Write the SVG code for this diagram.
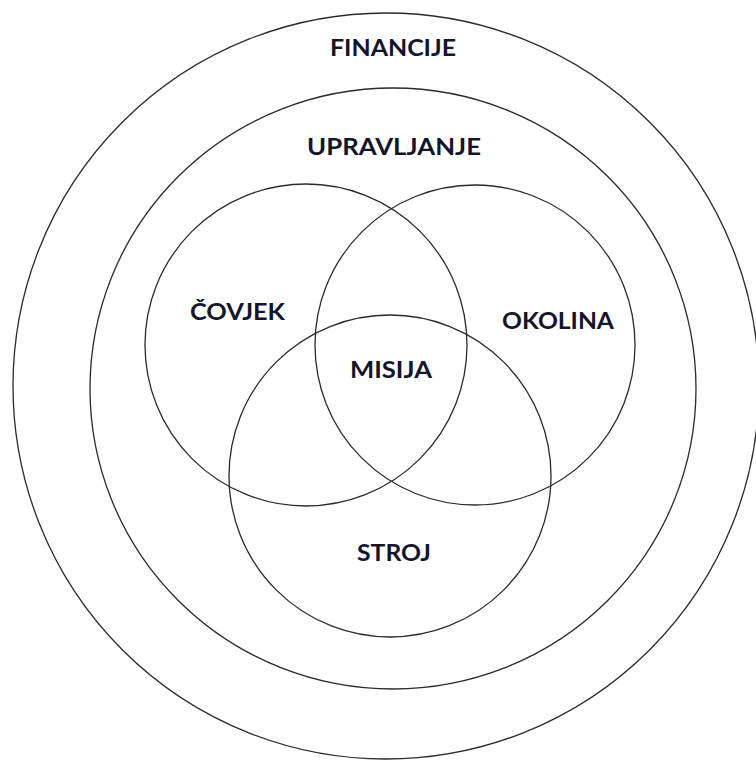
<svg xmlns="http://www.w3.org/2000/svg" width="756" height="760" viewBox="0 0 756 760">
<style>
.c{fill:none;stroke:#2a2a2a;stroke-width:1.3}
.t{font-family:Lato,"Open Sans","Liberation Sans",sans-serif;font-weight:bold;font-size:22px;fill:#14142a;text-anchor:middle}
</style>
<rect width="756" height="760" fill="#fff"/>
<g id="financije">
<ellipse class="c" cx="386" cy="386" rx="373" ry="373"/>
<text class="t" x="393" y="56" textLength="126" lengthAdjust="spacingAndGlyphs">FINANCIJE</text>
</g>
<g id="upravljanje">
<ellipse class="c" cx="393" cy="388.5" rx="303" ry="300.5"/>
<text class="t" x="394" y="155" textLength="174" lengthAdjust="spacingAndGlyphs">UPRAVLJANJE</text>
</g>
<g id="covjek">
<circle class="c" cx="306" cy="345" r="161"/>
<text class="t" x="237.5" y="320" textLength="95" lengthAdjust="spacingAndGlyphs">ČOVJEK</text>
</g>
<g id="okolina">
<circle class="c" cx="475" cy="345" r="160"/>
<text class="t" x="558" y="329" textLength="112" lengthAdjust="spacingAndGlyphs">OKOLINA</text>
</g>
<g id="stroj">
<circle class="c" cx="390" cy="476" r="161"/>
<text class="t" x="394" y="561" textLength="74" lengthAdjust="spacingAndGlyphs">STROJ</text>
</g>
<g id="misija">
<text class="t" x="391" y="378" textLength="82" lengthAdjust="spacingAndGlyphs">MISIJA</text>
</g>
<g id="connectors"></g>
</svg>
